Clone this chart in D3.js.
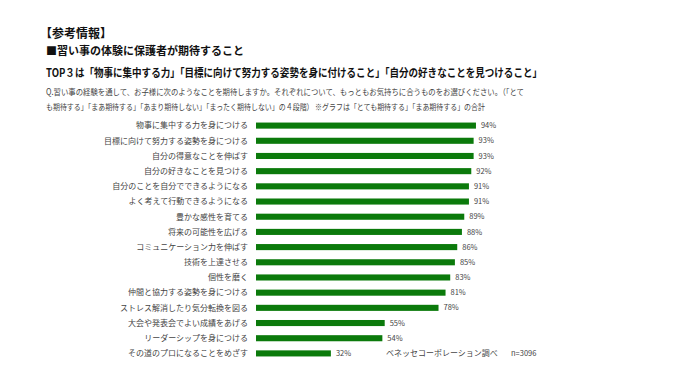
<!DOCTYPE html>
<html>
<head>
<meta charset="utf-8">
<script src="https://cdn.jsdelivr.net/npm/d3@7"></script>
<style>
  body { margin: 0; background: #fff; }
  text { font-family: "Noto Sans CJK JP", sans-serif; }
</style>
</head>
<body>
<svg id="chart" width="680" height="382"></svg>
<script>
const categories = [
  "物事に集中する力を身につける",
  "目標に向けて努力する姿勢を身につける",
  "自分の得意なことを伸ばす",
  "自分の好きなことを見つける",
  "自分のことを自分でできるようになる",
  "よく考えて行動できるようになる",
  "豊かな感性を育てる",
  "将来の可能性を広げる",
  "コミュニケーション力を伸ばす",
  "技術を上達させる",
  "個性を磨く",
  "仲間と協力する姿勢を身につける",
  "ストレス解消したり気分転換を図る",
  "大会や発表会でよい成績をあげる",
  "リーダーシップを身につける",
  "その道のプロになることをめざす"
];
const values = [94, 93, 93, 92, 91, 91, 89, 88, 86, 85, 83, 81, 78, 55, 54, 32];

const titleLines = [
  "【参考情報】",
  "■習い事の体験に保護者が期待すること",
  "TOP３は「物事に集中する力」「目標に向けて努力する姿勢を身に付けること」「自分の好きなことを見つけること」"
];
const questionLines = [
  "Q.習い事の経験を通して、お子様に次のようなことを期待しますか。それぞれについて、もっともお気持ちに合うものをお選びください。（「とて",
  "も期待する」「まあ期待する」「あまり期待しない」「まったく期待しない」の４段階） ※グラフは「とても期待する」「まあ期待する」の合計"
];
const sourceNote = "ベネッセコーポレーション調べ";
const sampleNote = "n=3096";

const svg = d3.select("#chart");

svg.append("text").attr("x", 40).attr("y", 38)
  .attr("font-size", 12).attr("font-weight", "bold").attr("fill", "#111")
  .text(titleLines[0]);
svg.append("text").attr("x", 46).attr("y", 55)
  .attr("font-size", 11).attr("font-weight", "bold").attr("fill", "#111")
  .text(titleLines[1]);
svg.append("text").attr("x", 46).attr("y", 77)
  .attr("font-size", 11).attr("font-weight", "bold").attr("fill", "#111")
  .attr("textLength", 496).attr("lengthAdjust", "spacingAndGlyphs")
  .text(titleLines[2]);
questionLines.forEach((t, i) => {
  svg.append("text").attr("x", 46).attr("y", 95 + i * 15)
    .attr("font-size", 8.5).attr("fill", "#444")
    .attr("textLength", i === 0 ? 478 : 439).attr("lengthAdjust", "spacingAndGlyphs")
    .text(t);
});

const x = d3.scaleLinear().domain([0, 100]).range([256, 490]);
const y = d3.scaleBand().domain(categories).range([118, 361]).paddingInner(0.6).paddingOuter(0.3);

const rows = svg.append("g");

rows.selectAll("rect")
  .data(categories)
  .enter()
  .append("rect")
  .attr("x", x(0))
  .attr("y", (d) => y(d))
  .attr("width", (d, i) => x(values[i]) - x(0))
  .attr("height", y.bandwidth())
  .attr("fill", "#0b7a0b");

rows.selectAll("text.cat")
  .data(categories)
  .enter()
  .append("text")
  .attr("class", "cat")
  .attr("x", 248)
  .attr("y", (d) => y(d) + y.bandwidth() / 2)
  .attr("dy", "0.35em")
  .attr("text-anchor", "end")
  .attr("font-size", 8)
  .attr("fill", "#444")
  .text((d) => d);

rows.selectAll("text.val")
  .data(categories)
  .enter()
  .append("text")
  .attr("class", "val")
  .attr("x", (d, i) => x(values[i]) + 5)
  .attr("y", (d) => y(d) + y.bandwidth() / 2)
  .attr("dy", "0.35em")
  .attr("font-size", 7.5)
  .attr("fill", "#444")
  .text((d, i) => values[i] + "%");

svg.append("text").attr("x", 386).attr("y", 356)
  .attr("font-size", 8).attr("fill", "#444").text(sourceNote);
svg.append("text").attr("x", 511).attr("y", 356)
  .attr("font-size", 7.5).attr("fill", "#444").text(sampleNote);
</script>
</body>
</html>
